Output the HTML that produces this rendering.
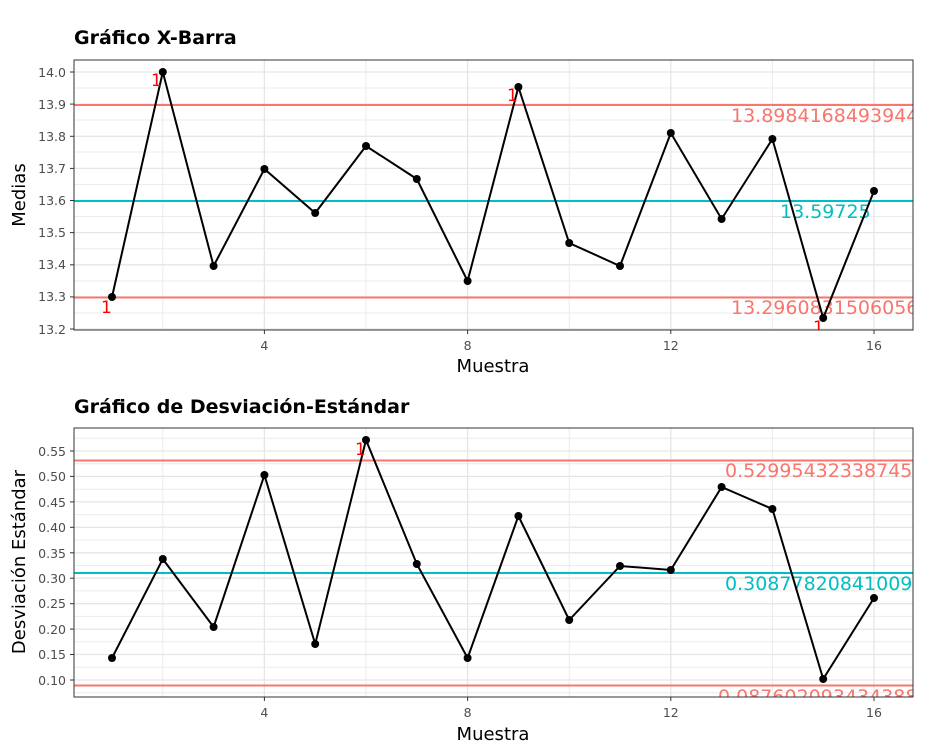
<!DOCTYPE html>
<html><head><meta charset="utf-8"><style>
body{margin:0;background:#fff}
svg{display:block;font-family:"DejaVu Sans","Liberation Sans",sans-serif}
.g{stroke:#ebebeb;stroke-width:1}
.G{stroke:#e6e6e6;stroke-width:1.3}
.t{fill:#4d4d4d;font-size:12.5px}
</style></head><body>
<svg width="933" height="751" viewBox="0 0 933 751">
<defs>
<clipPath id="c1"><rect x="74" y="60" width="839" height="270"/></clipPath>
<clipPath id="c2"><rect x="74" y="428" width="839" height="269"/></clipPath>
</defs>
<!-- TOP -->
<text x="74" y="44" font-size="19" font-weight="bold" fill="#000">Gráfico X-Barra</text>
<g clip-path="url(#c1)">
<g class="g">
<line x1="74" x2="913" y1="88" y2="88"/><line x1="74" x2="913" y1="120" y2="120"/><line x1="74" x2="913" y1="152" y2="152"/><line x1="74" x2="913" y1="184.5" y2="184.5"/><line x1="74" x2="913" y1="216.5" y2="216.5"/><line x1="74" x2="913" y1="248.7" y2="248.7"/><line x1="74" x2="913" y1="281" y2="281"/><line x1="74" x2="913" y1="313" y2="313"/>
<line x1="162.8" x2="162.8" y1="60" y2="330"/><line x1="366" x2="366" y1="60" y2="330"/><line x1="569.2" x2="569.2" y1="60" y2="330"/><line x1="772.4" x2="772.4" y1="60" y2="330"/>
</g>
<g class="G">
<line x1="74" x2="913" y1="72" y2="72"/><line x1="74" x2="913" y1="104.1" y2="104.1"/><line x1="74" x2="913" y1="136.3" y2="136.3"/><line x1="74" x2="913" y1="168.4" y2="168.4"/><line x1="74" x2="913" y1="200.5" y2="200.5"/><line x1="74" x2="913" y1="232.6" y2="232.6"/><line x1="74" x2="913" y1="264.8" y2="264.8"/><line x1="74" x2="913" y1="296.9" y2="296.9"/><line x1="74" x2="913" y1="329" y2="329"/>
<line x1="264.4" x2="264.4" y1="60" y2="330"/><line x1="467.6" x2="467.6" y1="60" y2="330"/><line x1="670.8" x2="670.8" y1="60" y2="330"/><line x1="874" x2="874" y1="60" y2="330"/>
</g>
<line x1="74" x2="913" y1="105" y2="105" stroke="#f8766d" stroke-width="2"/>
<line x1="74" x2="913" y1="201" y2="201" stroke="#00bfc4" stroke-width="2"/>
<line x1="74" x2="913" y1="297.5" y2="297.5" stroke="#f8766d" stroke-width="2"/>
<text x="731" y="122" font-size="19" fill="#f8766d">13.8984168493944</text>
<text x="780" y="218" font-size="19" fill="#00bfc4">13.59725</text>
<text x="731" y="314" font-size="19" fill="#f8766d">13.2960831506056</text>
<polyline fill="none" stroke="#000" stroke-width="2" points="112,297 162.8,72 213.6,266 264.4,169 315.2,213 366,146 416.8,179 467.6,281 518.4,87 569.2,243 620,266 670.8,133 721.6,219 772.4,139 823.2,318 874,191"/>
<g fill="#000"><circle cx="112" cy="297" r="4"/><circle cx="162.8" cy="72" r="4"/><circle cx="213.6" cy="266" r="4"/><circle cx="264.4" cy="169" r="4"/><circle cx="315.2" cy="213" r="4"/><circle cx="366" cy="146" r="4"/><circle cx="416.8" cy="179" r="4"/><circle cx="467.6" cy="281" r="4"/><circle cx="518.4" cy="87" r="4"/><circle cx="569.2" cy="243" r="4"/><circle cx="620" cy="266" r="4"/><circle cx="670.8" cy="133" r="4"/><circle cx="721.6" cy="219" r="4"/><circle cx="772.4" cy="139" r="4"/><circle cx="823.2" cy="318" r="4"/><circle cx="874" cy="191" r="4"/></g>
<g fill="#ff0000" font-size="17"><text x="101" y="313">1</text><text x="151" y="86">1</text><text x="507" y="101">1</text><text x="813" y="333">1</text></g>
</g>
<rect x="74" y="60" width="839" height="270" fill="none" stroke="#333" stroke-width="1"/>
<g class="t" text-anchor="end">
<text x="66" y="77">14.0</text><text x="66" y="109">13.9</text><text x="66" y="141">13.8</text><text x="66" y="173">13.7</text><text x="66" y="205">13.6</text><text x="66" y="237">13.5</text><text x="66" y="269">13.4</text><text x="66" y="301">13.3</text><text x="66" y="334">13.2</text>
</g>
<g stroke="#333"><line x1="70" x2="74" y1="72" y2="72"/><line x1="70" x2="74" y1="104.1" y2="104.1"/><line x1="70" x2="74" y1="136.3" y2="136.3"/><line x1="70" x2="74" y1="168.4" y2="168.4"/><line x1="70" x2="74" y1="200.5" y2="200.5"/><line x1="70" x2="74" y1="232.6" y2="232.6"/><line x1="70" x2="74" y1="264.8" y2="264.8"/><line x1="70" x2="74" y1="296.9" y2="296.9"/><line x1="70" x2="74" y1="329" y2="329"/>
<line x1="264.4" x2="264.4" y1="330" y2="334"/><line x1="467.6" x2="467.6" y1="330" y2="334"/><line x1="670.8" x2="670.8" y1="330" y2="334"/><line x1="874" x2="874" y1="330" y2="334"/></g>
<g class="t" text-anchor="middle"><text x="264.4" y="350">4</text><text x="467.6" y="350">8</text><text x="670.8" y="350">12</text><text x="874" y="350">16</text></g>
<text x="493" y="372" font-size="18" text-anchor="middle" fill="#000">Muestra</text>
<text transform="translate(25,195) rotate(-90)" font-size="18" text-anchor="middle" fill="#000">Medias</text>

<!-- BOTTOM -->
<text x="74" y="413" font-size="19" font-weight="bold" fill="#000">Gráfico de Desviación-Estándar</text>
<g clip-path="url(#c2)">
<g class="g">
<line x1="74" x2="913" y1="438.3" y2="438.3"/><line x1="74" x2="913" y1="463.7" y2="463.7"/><line x1="74" x2="913" y1="489.2" y2="489.2"/><line x1="74" x2="913" y1="514.6" y2="514.6"/><line x1="74" x2="913" y1="540" y2="540"/><line x1="74" x2="913" y1="565.5" y2="565.5"/><line x1="74" x2="913" y1="590.9" y2="590.9"/><line x1="74" x2="913" y1="616.4" y2="616.4"/><line x1="74" x2="913" y1="641.8" y2="641.8"/><line x1="74" x2="913" y1="667.3" y2="667.3"/><line x1="74" x2="913" y1="692.7" y2="692.7"/>
<line x1="162.8" x2="162.8" y1="428" y2="697"/><line x1="366" x2="366" y1="428" y2="697"/><line x1="569.2" x2="569.2" y1="428" y2="697"/><line x1="772.4" x2="772.4" y1="428" y2="697"/>
</g>
<g class="G">
<line x1="74" x2="913" y1="451" y2="451"/><line x1="74" x2="913" y1="476.4" y2="476.4"/><line x1="74" x2="913" y1="501.9" y2="501.9"/><line x1="74" x2="913" y1="527.3" y2="527.3"/><line x1="74" x2="913" y1="552.8" y2="552.8"/><line x1="74" x2="913" y1="578.2" y2="578.2"/><line x1="74" x2="913" y1="603.7" y2="603.7"/><line x1="74" x2="913" y1="629.1" y2="629.1"/><line x1="74" x2="913" y1="654.5" y2="654.5"/><line x1="74" x2="913" y1="680" y2="680"/>
<line x1="264.4" x2="264.4" y1="428" y2="697"/><line x1="467.6" x2="467.6" y1="428" y2="697"/><line x1="670.8" x2="670.8" y1="428" y2="697"/><line x1="874" x2="874" y1="428" y2="697"/>
</g>
<line x1="74" x2="913" y1="460.5" y2="460.5" stroke="#f8766d" stroke-width="2"/>
<line x1="74" x2="913" y1="573" y2="573" stroke="#00bfc4" stroke-width="2"/>
<line x1="74" x2="913" y1="685.5" y2="685.5" stroke="#f8766d" stroke-width="2"/>
<text x="725" y="477" font-size="19" fill="#f8766d">0.52995432338745</text>
<text x="725" y="590" font-size="19" fill="#00bfc4">0.308778208410092</text>
<text x="718" y="703" font-size="19" fill="#f8766d">0.0876020934343885</text>
<polyline fill="none" stroke="#000" stroke-width="2" points="112,658 162.8,559 213.6,627 264.4,475 315.2,644 366,440 416.8,564 467.6,658 518.4,516 569.2,620 620,566 670.8,570 721.6,487 772.4,509 823.2,679 874,598"/>
<g fill="#000"><circle cx="112" cy="658" r="4"/><circle cx="162.8" cy="559" r="4"/><circle cx="213.6" cy="627" r="4"/><circle cx="264.4" cy="475" r="4"/><circle cx="315.2" cy="644" r="4"/><circle cx="366" cy="440" r="4"/><circle cx="416.8" cy="564" r="4"/><circle cx="467.6" cy="658" r="4"/><circle cx="518.4" cy="516" r="4"/><circle cx="569.2" cy="620" r="4"/><circle cx="620" cy="566" r="4"/><circle cx="670.8" cy="570" r="4"/><circle cx="721.6" cy="487" r="4"/><circle cx="772.4" cy="509" r="4"/><circle cx="823.2" cy="679" r="4"/><circle cx="874" cy="598" r="4"/></g>
<text x="355" y="455" font-size="17" fill="#ff0000">1</text>
</g>
<rect x="74" y="428" width="839" height="269" fill="none" stroke="#333" stroke-width="1"/>
<g class="t" text-anchor="end">
<text x="66" y="456">0.55</text><text x="66" y="481">0.50</text><text x="66" y="507">0.45</text><text x="66" y="532">0.40</text><text x="66" y="558">0.35</text><text x="66" y="583">0.30</text><text x="66" y="608">0.25</text><text x="66" y="634">0.20</text><text x="66" y="659">0.15</text><text x="66" y="685">0.10</text>
</g>
<g stroke="#333"><line x1="70" x2="74" y1="451" y2="451"/><line x1="70" x2="74" y1="476.4" y2="476.4"/><line x1="70" x2="74" y1="501.9" y2="501.9"/><line x1="70" x2="74" y1="527.3" y2="527.3"/><line x1="70" x2="74" y1="552.8" y2="552.8"/><line x1="70" x2="74" y1="578.2" y2="578.2"/><line x1="70" x2="74" y1="603.7" y2="603.7"/><line x1="70" x2="74" y1="629.1" y2="629.1"/><line x1="70" x2="74" y1="654.5" y2="654.5"/><line x1="70" x2="74" y1="680" y2="680"/>
<line x1="264.4" x2="264.4" y1="697" y2="701"/><line x1="467.6" x2="467.6" y1="697" y2="701"/><line x1="670.8" x2="670.8" y1="697" y2="701"/><line x1="874" x2="874" y1="697" y2="701"/></g>
<g class="t" text-anchor="middle"><text x="264.4" y="717">4</text><text x="467.6" y="717">8</text><text x="670.8" y="717">12</text><text x="874" y="717">16</text></g>
<text x="493" y="740" font-size="18" text-anchor="middle" fill="#000">Muestra</text>
<text transform="translate(25,562) rotate(-90)" font-size="18" text-anchor="middle" fill="#000">Desviación Estándar</text>
</svg>
</body></html>
